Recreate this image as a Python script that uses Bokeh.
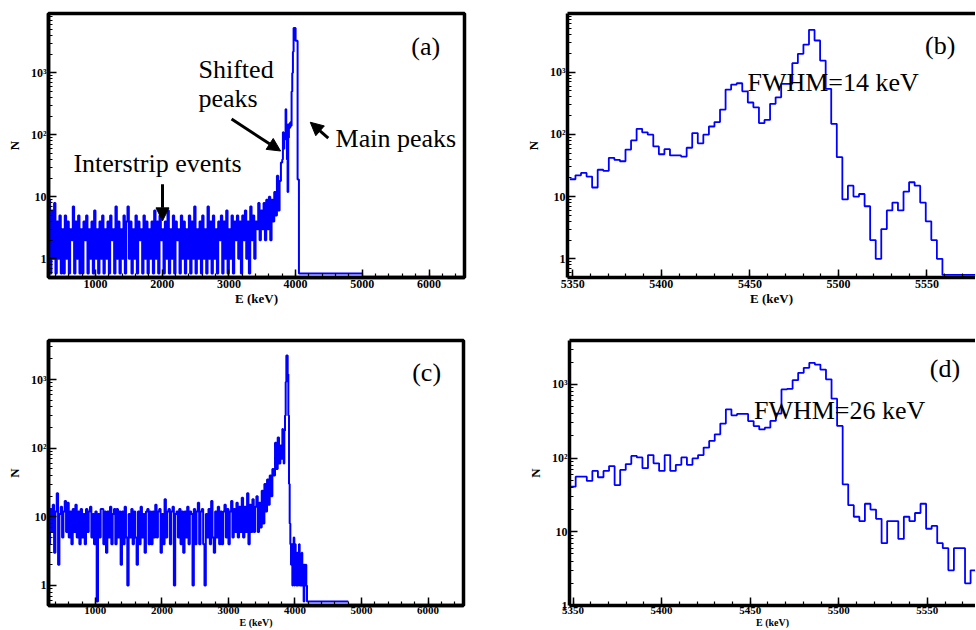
from bokeh.plotting import figure
from bokeh.models import (Label, Arrow, NormalHead, LinearAxis, FixedTicker,
                          SingleIntervalTicker, Range1d)
from bokeh.layouts import column, row
from bokeh.embed import file_html
from bokeh.resources import INLINE

BLUE = "#0000ff"
SERIF = "Liberation Serif"

# ---------------- data ----------------
# panel (a): wide-range spectrum, 20 keV bins from 300 keV, then 10 keV bins from 3800 keV
a_lo_start, a_lo_width = 300, 20
a_lo_counts = [
    9, 0, 6, 1, 8, 0, 4, 1, 5, 0, 3, 0, 5, 1, 4, 0, 3, 2, 7, 0,
    4, 1, 5, 0, 3, 0, 4, 2, 5, 0, 3, 1, 4, 0, 6, 1, 3, 0, 4, 1,
    5, 0, 3, 1, 4, 0, 5, 2, 3, 0, 7, 1, 4, 0, 3, 1, 5, 0, 4, 7,
    1, 4, 0, 3, 1, 5, 0, 4, 2, 3, 0, 5, 1, 4, 0, 3, 1, 4, 0, 6,
    1, 4, 0, 5, 2, 3, 0, 4, 1, 6, 0, 3, 1, 5, 0, 4, 2, 3, 0, 5,
    1, 4, 0, 3, 1, 5, 0, 4, 1, 7, 0, 3, 1, 4, 0, 5, 1, 3, 0, 7,
    1, 4, 0, 5, 1, 3, 0, 4, 2, 5, 0, 4, 1, 6, 0, 3, 1, 5, 0, 4,
    2, 5, 1, 4, 0, 5, 2, 6, 1, 4, 0, 7, 2, 5, 1, 4, 3, 8, 2, 6,
    3, 8, 2, 9, 3, 10, 2, 9, 4, 12, 5, 22, 6, 18, 36,
]
a_hi_start, a_hi_width = 3800, 10
a_hi_counts = [40, 110, 60, 100, 85, 260, 150, 40, 12, 90, 150, 130, 160, 140,
               500, 1000, 2200, 5300, 5300, 5300, 3300, 3300, 3300, 19, 19, 0]
a_tail_end = 5000

# panel (c): same binning as (a)
c_lo_counts = [
    4, 13, 6, 15, 3, 12, 22, 2, 11, 14, 5, 12, 17, 6, 16, 5, 12, 4, 13, 6,
    15, 5, 12, 4, 13, 5, 11, 4, 13, 6, 12, 14, 5, 11, 4, 12, 0, 11, 5, 13,
    13, 4, 12, 3, 12, 5, 14, 4, 11, 13, 4, 13, 5, 12, 2, 12, 4, 14, 5, 1,
    11, 5, 13, 4, 12, 5, 2, 12, 4, 14, 5, 11, 3, 12, 13, 4, 12, 4, 12, 5,
    15, 5, 12, 13, 3, 11, 4, 18, 5, 12, 13, 4, 12, 14, 1, 11, 12, 5, 13, 4,
    12, 3, 12, 5, 14, 4, 12, 11, 1, 13, 4, 12, 16, 4, 12, 13, 4, 1, 11, 5,
    13, 4, 17, 5, 3, 12, 5, 14, 4, 12, 4, 12, 15, 5, 13, 4, 12, 17, 5, 13,
    6, 16, 5, 14, 6, 19, 5, 14, 6, 22, 4, 15, 6, 18, 6, 14, 20, 6, 16, 7,
    24, 8, 30, 12, 35, 15, 40, 20, 50, 40, 120, 50, 144, 60, 110,
]
c_hi_counts = [70, 190, 130, 60, 180, 300, 920, 2250, 2250, 1200, 300, 30, 8, 4,
               2, 4, 1, 3, 5, 1, 4, 2, 1, 3, 1, 2, 4, 1, 2, 1, 3, 1, 2, 0, 2, 1, 2, 1]
c_tail_end = 4800

# panels (b) and (d): zoomed region, ~3.14 keV bins
z_start, z_width = 5348.35, 3.14
b_counts = [19, 22, 24, 21, 14, 27, 26, 42, 39, 37,
            57, 80, 123, 108, 99, 64, 48, 58, 46, 46,
            44, 61, 105, 72, 99, 134, 158, 251, 526, 634,
            665, 494, 326, 273, 152, 171, 310, 395, 650, 650,
            1400, 1980, 2780, 4800, 3240, 1540, 540, 148, 43, 9,
            15, 10, 11, 7, 2, 1, 3, 6, 8, 6,
            12, 17, 15, 8, 4, 2, 1]
b_tail_end = 5600
d_counts = [41, 56, 56, 49, 67, 55, 67, 78, 43, 69,
            83, 107, 102, 73, 110, 85, 67, 110, 67, 81,
            102, 81, 99, 110, 139, 171, 210, 294, 459, 380,
            397, 397, 318, 272, 245, 259, 320, 400, 855, 870,
            1140, 1436, 1680, 1960, 1860, 1590, 1170, 640, 273, 44,
            23, 16, 14, 24, 20, 15, 7, 14, 14, 8,
            16, 14, 18, 24, 11, 12, 7, 6, 3, 6,
            6, 2, 3]

y_tick_labels = {1: "1", 10: "10", 100: "10\u00b2", 1000: "10\u00b3"}


def hist_points(segments, floor, tail_end=None):
    xs, ys = [], []
    for start, width, counts in segments:
        for i, c in enumerate(counts):
            xs.append(start + i * width)
            ys.append(c if c > 0 else floor)
    s, w, cnt = segments[-1]
    end_edge = s + len(cnt) * w
    if tail_end is not None:
        xs.append(end_edge); ys.append(floor)
        xs.append(tail_end); ys.append(floor)
    else:
        xs.append(end_edge); ys.append(ys[-1])
    return xs, ys


def style_axis(ax, tick_px, label_px, tick_standoff):
    ax.axis_line_width = 3.5
    ax.axis_line_color = "black"
    ax.major_tick_in = 8
    ax.major_tick_out = 0
    ax.minor_tick_in = 4
    ax.minor_tick_out = 0
    ax.major_tick_line_width = 1.5
    ax.minor_tick_line_width = 1.2
    ax.major_tick_line_color = "black"
    ax.minor_tick_line_color = "black"
    ax.major_label_text_font = SERIF
    ax.major_label_text_font_style = "bold"
    ax.major_label_text_font_size = tick_px
    ax.major_label_text_color = "black"
    ax.major_label_standoff = tick_standoff
    ax.axis_label_text_font = SERIF
    ax.axis_label_text_font_style = "bold"
    ax.axis_label_text_font_size = label_px
    ax.axis_label_text_color = "black"
    ax.axis_label_standoff = 0


def make_fig(width, height, xr, yr, borders, major_interval, full_frame, compact):
    bl, br, bt, bb = borders
    p = figure(width=width, height=height, x_range=Range1d(*xr), y_range=Range1d(*yr),
               y_axis_type="log", output_backend="svg", toolbar_location=None,
               min_border_left=bl, min_border_right=br, min_border_top=bt,
               min_border_bottom=bb)
    p.grid.visible = False
    p.background_fill_color = "white"
    p.border_fill_color = "white"
    p.xaxis.ticker = SingleIntervalTicker(interval=major_interval, num_minor_ticks=5)
    if compact:
        style_axis(p.xaxis[0], "11px", "10px", 1)
    else:
        style_axis(p.xaxis[0], "12px", "13px", 2)
    style_axis(p.yaxis[0], "12px", "13px", 2)
    p.xaxis[0].axis_label = "E (keV)"
    p.yaxis[0].axis_label = "N"
    p.yaxis[0].axis_label_standoff = 6
    p.yaxis[0].major_label_overrides = y_tick_labels
    if full_frame:
        p.outline_line_color = "black"
        p.outline_line_width = 3.5
        p.outline_line_alpha = 1.0
    else:
        p.outline_line_color = None
        top = LinearAxis(ticker=FixedTicker(ticks=[]), axis_line_width=3.5,
                         axis_line_color="black", major_tick_in=0, major_tick_out=0,
                         minor_tick_in=0, minor_tick_out=0, major_label_standoff=0)
        p.add_layout(top, "above")
    return p


def add_text(p, x, y, text, align="center"):
    p.add_layout(Label(x=x, y=y, text=text, text_font=SERIF, text_font_size="26px",
                       text_align=align, text_baseline="middle", text_color="black"))


def add_arrow(p, x0, y0, x1, y1):
    p.add_layout(Arrow(end=NormalHead(size=13, fill_color="black", line_color="black"),
                       x_start=x0, y_start=y0, x_end=x1, y_end=y1,
                       line_color="black", line_width=3))


# ---------------- panel (a) ----------------
pa = make_fig(490, 328, (296, 6532), (0.5, 9100), (48, 26, 12, 51), 1000, True, False)
xa, ya = hist_points([(a_lo_start, a_lo_width, a_lo_counts),
                      (a_hi_start, a_hi_width, a_hi_counts)], 0.58, a_tail_end)
pa.step(xa, ya, mode="after", line_color=BLUE, line_width=2.0)
add_text(pa, 5950, 2700, "(a)")
add_text(pa, 2545, 1150, "Shifted", "left")
add_text(pa, 2545, 380, "peaks", "left")
add_text(pa, 4600, 89, "Main peaks", "left")
add_text(pa, 670, 34, "Interstrip events", "left")
add_arrow(pa, 3040, 180, 3775, 55)
add_arrow(pa, 4490, 89, 4220, 160)
add_arrow(pa, 2005, 16, 2005, 4.1)

# ---------------- panel (b) ----------------
pb = make_fig(485, 328, (5347, 5577.4), (0.5, 8800), (77, 0, 13, 51), 50, False, False)
xb, yb = hist_points([(z_start, z_width, b_counts)], 0.55, b_tail_end)
pb.step(xb, yb, mode="after", line_color=BLUE, line_width=1.8)
add_text(pb, 5557.5, 2700, "(b)")
add_text(pb, 5497, 683, "FWHM=14 keV")

# ---------------- panel (c) ----------------
pc = make_fig(490, 302, (296, 6532), (0.51, 3720), (48, 27, 12, 25), 1000, True, True)
xc, yc = hist_points([(a_lo_start, a_lo_width, c_lo_counts),
                      (a_hi_start, a_hi_width, c_hi_counts)], 0.585, c_tail_end)
pc.step(xc, yc, mode="after", line_color=BLUE, line_width=2.0)
add_text(pc, 5978, 1270, "(c)")

# ---------------- panel (d) ----------------
pd = make_fig(485, 302, (5348, 5577.2), (1.0, 3940), (79, 0, 11, 25), 50, False, True)
xd, yd = hist_points([(z_start, z_width, d_counts)], 0.55)
pd.step(xd, yd, mode="after", line_color=BLUE, line_width=1.8)
add_text(pd, 5560, 1660, "(d)")
add_text(pd, 5500.5, 437, "FWHM=26 keV")

layout = column(row(pa, pb), row(pc, pd))
open("out.html", "w").write(file_html(layout, INLINE))
